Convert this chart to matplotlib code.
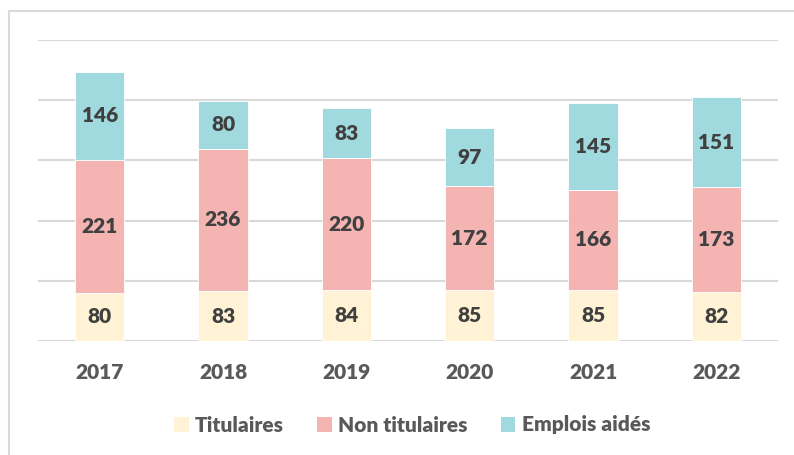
import matplotlib.pyplot as plt
from matplotlib.patches import Rectangle, Patch
import numpy as np

years = ['2017', '2018', '2019', '2020', '2021', '2022']
titulaires = [80, 83, 84, 85, 85, 82]
non_titulaires = [221, 236, 220, 172, 166, 173]
emplois_aides = [146, 80, 83, 97, 145, 151]

series = [('Titulaires', titulaires, '#FFF2D5'),
          ('Non titulaires', non_titulaires, '#F4B4B2'),
          ('Emplois aidés', emplois_aides, '#A0D9DE')]

plt.rcParams['font.family'] = ['Lato', 'DejaVu Sans']
W = 'heavy'

fig = plt.figure(figsize=(7.94, 4.55), dpi=100)
ax = fig.add_axes([38 / 794, 1 - 341 / 455, 740 / 794, 301 / 455])

x = np.arange(len(years))
bottom = np.zeros(len(years))
for name, vals, col in series:
    vals = np.array(vals)
    ax.bar(x, vals, 0.4, bottom=bottom, color=col, edgecolor='white',
           linewidth=0.6, label=name, zorder=3)
    for xi, b, v in zip(x, bottom, vals):
        ax.text(xi, b + v / 2, str(v), ha='center', va='center',
                fontsize=15, fontweight=W, color='#404040', zorder=4)
    bottom += vals

ax.set_xlim(-0.5, len(years) - 0.5)
ax.set_ylim(0, 500)
ax.set_yticks(range(0, 501, 100))
ax.set_yticklabels([])
ax.tick_params(axis='y', length=0)
ax.grid(axis='y', color='#D9D9D9', linewidth=1.5, zorder=0)
ax.set_xticks(x)
ax.set_xticklabels(years, fontsize=15, fontweight=W, color='#595959')
ax.tick_params(axis='x', length=0, pad=16)
for s in ax.spines.values():
    s.set_visible(False)

handles = [Patch(facecolor=c, label=n) for n, _, c in series]
fig.legend(handles=handles, loc='center', bbox_to_anchor=(412 / 794, 1 - 425 / 455),
           ncol=3, frameon=False, prop={'size': 15, 'weight': W},
           handlelength=0.7, handleheight=0.7, handletextpad=0.3, columnspacing=1.6,
           labelcolor='#595959')

fig.patches.append(Rectangle((9 / 794, -0.1), 1.2, 1.1 - 11 / 455,
                             transform=fig.transFigure, fill=False,
                             edgecolor='#D9D9D9', linewidth=1.5))

fig.savefig('out.png', dpi=100)
